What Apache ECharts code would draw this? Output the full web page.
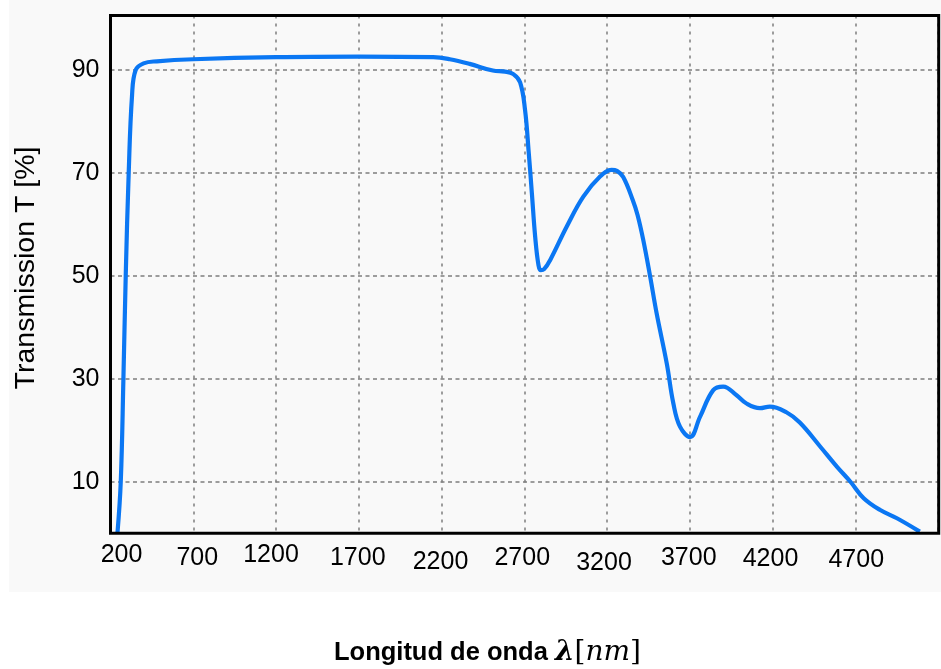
<!DOCTYPE html>
<html>
<head>
<meta charset="utf-8">
<script src="https://cdn.jsdelivr.net/npm/echarts@6/dist/echarts.min.js"></script>
<style>
  html, body { margin: 0; padding: 0; background: #ffffff; }
  #chart { width: 941px; height: 669px; }
</style>
</head>
<body>
<div id="chart"></div>
<script>
// Transmission spectrum: wavelength (nm) vs transmission (%)
const wavelength = [
  242, 262, 278, 292, 310, 330, 352, 400, 480, 700,
  1200, 1700, 2150, 2250, 2370, 2510, 2584, 2634, 2675, 2705,
  2726, 2746, 2766, 2786, 2800, 2820, 2857, 2957, 3057, 3158,
  3228, 3260, 3298, 3356, 3385, 3419, 3460, 3500, 3561, 3601, 3641,
  3702, 3762, 3842, 3902, 3983, 4043, 4124, 4184, 4284, 4365,
  4489, 4590, 4671, 4751, 4851, 4952, 5090
];
const transmission = [
  0, 10, 30, 50, 70, 85, 90, 91.3, 91.7, 92.1,
  92.5, 92.6, 92.5, 92.1, 91.2, 89.9, 89.7, 89.2, 87.6, 82.2,
  74.4, 66.1, 57.6, 52.1, 51.1, 51.3, 53.1, 59.6, 65.4, 69.3,
  70.6, 70.4, 69.2, 64.7, 61.8, 57.0, 50.0, 42.7, 33.0, 25.2, 20.7,
  18.7, 22.6, 27.8, 28.5, 26.8, 25.2, 24.3, 24.6, 23.5, 21.5,
  16.8, 12.9, 10.0, 6.8, 4.5, 2.9, 0.3
];
const xTickLabels = [200, 700, 1200, 1700, 2200, 2700, 3200, 3700, 4200, 4700];
const yTickLabels = [10, 30, 50, 70, 90];
const yTitle = 'Transmission T [%]';
const xTitleText = 'Longitud de onda ';
const xTitleSymbol = 'λ';
const xTitleUnit = 'nm';

// layout of the plot frame
const frame = { left: 110.5, top: 15.5, width: 828.2, height: 517.7 };
// small per-label offsets [dx, dy] of the wavelength labels
const xLabelNudge = {
  200: [11, 0], 700: [4, 3], 1200: [-5, 0], 1700: [-1, 3], 2200: [-1, 7],
  2700: [-2, 3], 3200: [-3, 8], 3700: [-1, 3], 4200: [-2, 4], 4700: [1, 5]
};

const labelFont = '"Liberation Sans", Arial, sans-serif';
const xRich = {};
xTickLabels.forEach(function (v) {
  const n = xLabelNudge[v] || [0, 0];
  xRich['t' + v] = {
    fontSize: 25, fontFamily: labelFont, color: '#000',
    padding: [n[1], n[0] < 0 ? -2 * n[0] : 0, 0, n[0] > 0 ? 2 * n[0] : 0]
  };
});

const chart = echarts.init(document.getElementById('chart'), null, { renderer: 'canvas' });

chart.setOption({
  backgroundColor: '#ffffff',
  animation: false,
  grid: {
    left: frame.left, top: frame.top, width: frame.width, height: frame.height,
    show: true, backgroundColor: '#f9f9f9', borderWidth: 0
  },
  xAxis: {
    type: 'value', min: 200, max: 5200, interval: 500,
    axisLine: { show: false }, axisTick: { show: false },
    axisLabel: {
      margin: 9,
      formatter: function (v) { return xTickLabels.indexOf(v) >= 0 ? '{t' + v + '|' + v + '}' : ''; },
      rich: xRich
    },
    splitLine: { show: true, lineStyle: { color: '#7d7d7d', width: 1.5, type: [3, 5] } }
  },
  yAxis: {
    type: 'value', min: 0, max: 100.6, interval: 10,
    axisLine: { show: false }, axisTick: { show: false },
    axisLabel: {
      margin: 11, fontSize: 25, fontFamily: labelFont, color: '#000',
      formatter: function (v) { return yTickLabels.indexOf(v) >= 0 ? String(v) : ''; }
    },
    splitLine: { show: true, lineStyle: { color: ['rgba(0,0,0,0)', '#7d7d7d'], width: 1.5, type: [4, 3.5] } }
  },
  series: [{
    type: 'line',
    data: wavelength.map(function (x, i) { return [x, transmission[i]]; }),
    showSymbol: false,
    smooth: 0.4,
    lineStyle: { color: '#0b77f3', width: 4.2 },
    z: 3
  }],
  graphic: [
    {
      type: 'rect', z: -10, silent: true,
      shape: { x: 9, y: 0, width: 932, height: 592 },
      style: { fill: '#f9f9f9' }
    },
    {
      type: 'rect', z: 100, silent: true,
      shape: { x: frame.left, y: frame.top, width: frame.width, height: frame.height },
      style: { fill: 'none', stroke: '#000', lineWidth: 3 }
    },
    {
      type: 'text', z: 100, silent: true,
      x: 26, y: 268, rotation: Math.PI / 2,
      style: {
        text: yTitle, font: '28.5px "Liberation Sans", Arial, sans-serif',
        fill: '#000', align: 'center', verticalAlign: 'middle'
      }
    },
    {
      type: 'text', z: 100, silent: true,
      x: 487.5, y: 653,
      style: {
        text: '{b|' + xTitleText + '}{m|' + xTitleSymbol + '}{r|[}{i|' + xTitleUnit + '}{r|]}',
        align: 'center', verticalAlign: 'middle',
        rich: {
          b: { fontSize: 25.5, fontWeight: 'bold', fontFamily: labelFont, color: '#000' },
          m: { fontSize: 28, fontWeight: 'bold', fontStyle: 'italic', fontFamily: '"DejaVu Serif", serif', color: '#000' },
          r: { fontSize: 28, fontFamily: '"DejaVu Serif", serif', color: '#000' },
          i: { fontSize: 28, fontStyle: 'italic', fontFamily: '"DejaVu Serif", serif', color: '#000' }
        }
      }
    }
  ]
});
</script>
</body>
</html>
